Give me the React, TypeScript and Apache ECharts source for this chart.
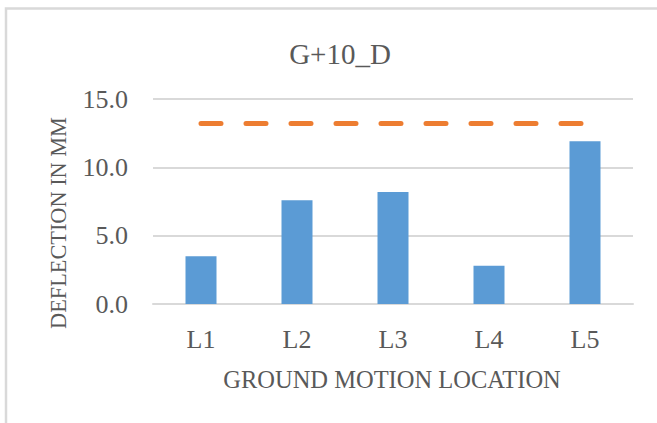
import React, { useEffect, useRef } from "react";
import * as echarts from "echarts";

const categories = ["L1", "L2", "L3", "L4", "L5"];
const deflection = [3.5, 7.6, 8.2, 2.8, 11.9];
const limit = [13.2, 13.2, 13.2, 13.2, 13.2];
const titleText = "G+10_D";
const xName = "GROUND MOTION LOCATION";
const yName = "DEFLECTION IN MM";

const FONT = "'Liberation Serif', 'DejaVu Serif', serif";
const TXT = "#595959";

export default function App() {
  const ref = useRef<HTMLDivElement>(null);
  useEffect(() => {
    if (!ref.current) return;
    const chart = echarts.init(ref.current, null, { renderer: "svg" });
    chart.setOption({
      animation: false,
      backgroundColor: "#ffffff",
      textStyle: { fontFamily: FONT },
      title: {
        text: titleText,
        left: 335,
        top: 34,
        textAlign: "center",
        textStyle: { fontFamily: FONT, fontSize: 29, fontWeight: "normal", color: TXT },
      },
      grid: { left: 153, right: 24, top: 99, bottom: 119, containLabel: false },
      xAxis: {
        type: "category",
        data: categories,
        axisLine: { lineStyle: { color: "#d9d9d9", width: 2 } },
        axisTick: { show: false },
        axisLabel: { color: TXT, fontSize: 26, fontFamily: FONT, margin: 22 },
      },
      yAxis: {
        type: "value",
        min: 0,
        max: 15,
        interval: 5,
        axisLine: { show: false },
        axisTick: { show: false },
        axisLabel: {
          color: TXT,
          fontSize: 26,
          fontFamily: FONT,
          margin: 25,
          formatter: (v: number) => v.toFixed(1),
        },
        splitLine: { lineStyle: { color: "#d9d9d9", width: 2 } },
      },
      series: [
        {
          type: "bar",
          data: deflection,
          barWidth: 31,
          itemStyle: { color: "#5B9BD5" },
          z: 2,
        },
        {
          type: "line",
          data: limit,
          symbol: "none",
          lineStyle: { color: "#ED7D31", width: 5, type: [20, 25], cap: "round" },
          z: 3,
        },
      ],
      graphic: [
        {
          type: "polyline",
          shape: { points: [[6, 423], [6, 8.5], [657, 8.5]] },
          style: { stroke: "#d9d9d9", lineWidth: 2.5, fill: "none" },
          silent: true,
        },
        {
          type: "text",
          x: 392,
          y: 379,
          style: {
            text: xName,
            fontFamily: FONT,
            fontSize: 24.5,
            fill: TXT,
            align: "center",
            verticalAlign: "middle",
          },
        },
        {
          type: "text",
          x: 58,
          y: 223,
          rotation: Math.PI / 2,
          style: {
            text: yName,
            fontFamily: FONT,
            fontSize: 22.3,
            fill: TXT,
            align: "center",
            verticalAlign: "middle",
          },
        },
      ],
    });
    return () => chart.dispose();
  }, []);
  return <div ref={ref} style={{ width: 657, height: 423, position: "absolute", left: 0, top: 0 }} />;
}
